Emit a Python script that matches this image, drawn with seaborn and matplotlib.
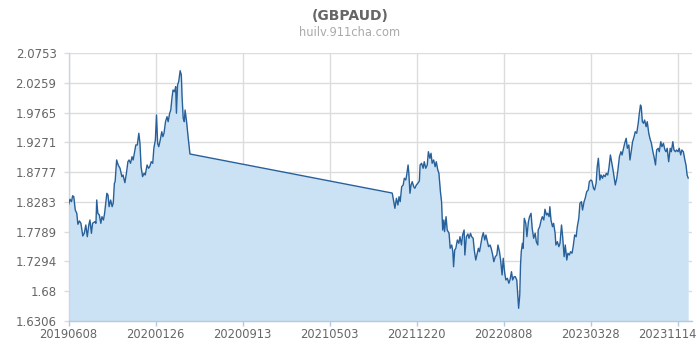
import matplotlib
matplotlib.use("Agg")
import matplotlib.pyplot as plt
import matplotlib.transforms as mtransforms
import seaborn as sns
import pandas as pd

# ---- data (GBP/AUD) ----
dates = [
    "2019-06-08", "2019-06-12", "2019-06-16", "2019-06-19", "2019-06-22", "2019-06-26", "2019-06-30",
    "2019-07-03", "2019-07-07", "2019-07-11", "2019-07-16", "2019-07-20", "2019-07-24", "2019-07-28",
    "2019-08-01", "2019-08-04", "2019-08-08", "2019-08-11", "2019-08-17", "2019-08-20", "2019-08-22",
    "2019-08-25", "2019-08-29", "2019-09-02", "2019-09-05", "2019-09-09", "2019-09-12", "2019-09-18",
    "2019-09-21", "2019-09-24", "2019-09-28", "2019-10-02", "2019-10-05", "2019-10-08", "2019-10-10",
    "2019-10-14", "2019-10-18", "2019-10-23", "2019-10-28", "2019-10-31", "2019-11-05", "2019-11-09",
    "2019-11-13", "2019-11-16", "2019-11-20", "2019-11-24", "2019-11-27", "2019-12-01", "2019-12-04",
    "2019-12-08", "2019-12-12", "2019-12-15", "2019-12-18", "2019-12-22", "2019-12-26", "2019-12-29",
    "2020-01-03", "2020-01-07", "2020-01-10", "2020-01-14", "2020-01-18", "2020-01-21", "2020-01-25",
    "2020-01-28", "2020-01-31", "2020-02-03", "2020-02-07", "2020-02-11", "2020-02-14", "2020-02-17",
    "2020-02-21", "2020-02-25", "2020-02-28", "2020-03-03", "2020-03-06", "2020-03-09", "2020-03-12",
    "2020-03-16", "2020-03-19", "2020-03-21", "2020-03-24", "2020-03-27", "2020-03-31", "2020-04-03",
    "2020-04-05", "2020-04-08", "2020-04-11", "2020-04-13", "2020-04-17", "2020-04-21", "2020-04-26",
    "2021-10-15", "2021-10-16", "2021-10-20", "2021-10-23", "2021-10-27", "2021-10-31", "2021-11-03",
    "2021-11-06", "2021-11-10", "2021-11-14", "2021-11-17", "2021-11-21", "2021-11-24", "2021-11-27",
    "2021-11-29", "2021-12-02", "2021-12-05", "2021-12-08", "2021-12-12", "2021-12-15", "2021-12-19",
    "2021-12-23", "2021-12-27", "2021-12-29", "2022-01-02", "2022-01-06", "2022-01-09", "2022-01-13",
    "2022-01-17", "2022-01-20", "2022-01-24", "2022-01-27", "2022-01-30", "2022-02-03", "2022-02-07",
    "2022-02-10", "2022-02-14", "2022-02-17", "2022-02-21", "2022-02-24", "2022-02-27", "2022-03-02",
    "2022-03-04", "2022-03-08", "2022-03-11", "2022-03-16", "2022-03-19", "2022-03-23", "2022-03-26",
    "2022-03-28", "2022-03-31", "2022-04-03", "2022-04-07", "2022-04-11", "2022-04-14", "2022-04-18",
    "2022-04-21", "2022-04-25", "2022-04-27", "2022-05-01", "2022-05-05", "2022-05-08", "2022-05-12",
    "2022-05-15", "2022-05-19", "2022-05-22", "2022-05-26", "2022-05-30", "2022-06-02", "2022-06-05",
    "2022-06-09", "2022-06-12", "2022-06-15", "2022-06-19", "2022-06-22", "2022-06-26", "2022-06-29",
    "2022-07-03", "2022-07-06", "2022-07-10", "2022-07-13", "2022-07-17", "2022-07-21", "2022-07-24",
    "2022-07-28", "2022-07-31", "2022-08-04", "2022-08-07", "2022-08-11", "2022-08-14", "2022-08-18",
    "2022-08-22", "2022-08-25", "2022-08-29", "2022-09-01", "2022-09-05", "2022-09-08", "2022-09-12",
    "2022-09-15", "2022-09-17", "2022-09-20", "2022-09-22", "2022-09-24", "2022-09-27", "2022-09-29",
    "2022-10-02", "2022-10-06", "2022-10-09", "2022-10-13", "2022-10-16", "2022-10-20", "2022-10-23",
    "2022-10-27", "2022-10-31", "2022-11-03", "2022-11-07", "2022-11-08", "2022-11-12", "2022-11-16",
    "2022-11-19", "2022-11-23", "2022-11-26", "2022-11-30", "2022-12-03", "2022-12-07", "2022-12-09",
    "2022-12-12", "2022-12-16", "2022-12-19", "2022-12-23", "2022-12-25", "2022-12-29", "2023-01-02",
    "2023-01-05", "2023-01-09", "2023-01-12", "2023-01-16", "2023-01-19", "2023-01-23", "2023-01-26",
    "2023-01-30", "2023-02-02", "2023-02-06", "2023-02-09", "2023-02-13", "2023-02-17", "2023-02-20",
    "2023-02-24", "2023-02-27", "2023-03-03", "2023-03-06", "2023-03-10", "2023-03-13", "2023-03-17",
    "2023-03-21", "2023-03-24", "2023-03-28", "2023-03-31", "2023-04-04", "2023-04-07", "2023-04-11",
    "2023-04-14", "2023-04-17", "2023-04-21", "2023-04-24", "2023-04-28", "2023-05-01", "2023-05-05",
    "2023-05-08", "2023-05-12", "2023-05-15", "2023-05-19", "2023-05-23", "2023-05-26", "2023-05-30",
    "2023-06-01", "2023-06-05", "2023-06-08", "2023-06-12", "2023-06-16", "2023-06-19", "2023-06-23",
    "2023-06-26", "2023-06-30", "2023-07-03", "2023-07-07", "2023-07-10", "2023-07-14", "2023-07-17",
    "2023-07-21", "2023-07-24", "2023-07-28", "2023-08-01", "2023-08-04", "2023-08-07", "2023-08-09",
    "2023-08-12", "2023-08-15", "2023-08-18", "2023-08-22", "2023-08-25", "2023-08-29", "2023-09-01",
    "2023-09-05", "2023-09-09", "2023-09-12", "2023-09-16", "2023-09-19", "2023-09-23", "2023-09-26",
    "2023-09-30", "2023-10-03", "2023-10-07", "2023-10-11", "2023-10-14", "2023-10-17", "2023-10-21",
    "2023-10-25", "2023-10-28", "2023-11-01", "2023-11-04", "2023-11-08", "2023-11-11", "2023-11-15",
    "2023-11-18", "2023-11-22", "2023-11-25", "2023-11-29", "2023-12-03", "2023-12-06", "2023-12-09",
    "2023-12-12",
]
rates = [
    1.8231, 1.8326, 1.8286, 1.8385, 1.8369, 1.8148, 1.8093,
    1.7911, 1.7966, 1.7927, 1.7717, 1.7761, 1.7899, 1.7705,
    1.7899, 1.7982, 1.7761, 1.7927, 1.7954, 1.7927, 1.8314,
    1.8093, 1.8065, 1.7927, 1.8037, 1.7982, 1.8093, 1.8425,
    1.8397, 1.8203, 1.8314, 1.8203, 1.8259, 1.8591, 1.8618,
    1.8978, 1.8895, 1.8840, 1.8701, 1.8729, 1.8601, 1.8757,
    1.8949, 1.8978, 1.8923, 1.9032, 1.8978, 1.9115, 1.9227,
    1.9227, 1.9421, 1.9255, 1.8866, 1.8701, 1.8757, 1.8729,
    1.8895, 1.8840, 1.8866, 1.8949, 1.8923, 1.9172, 1.9309,
    1.9724, 1.9255, 1.9198, 1.9309, 1.9447, 1.9364, 1.9421,
    1.9613, 1.9696, 1.9613, 1.9753, 1.9807, 2.0001, 2.0139,
    2.0111, 2.0194, 1.9753, 2.0222, 2.0277, 2.0459, 2.0388,
    2.0028, 1.9670, 1.9613, 1.9807, 1.9613, 1.9364, 1.9077,
    1.8430, 1.8425, 1.8286, 1.8176, 1.8342, 1.8231, 1.8369,
    1.8286, 1.8535, 1.8563, 1.8674, 1.8646, 1.8757, 1.8895,
    1.8757, 1.8425, 1.8563, 1.8618, 1.8535, 1.8508, 1.8563,
    1.8591, 1.8629, 1.8895, 1.8923, 1.8840, 1.8949, 1.8840,
    1.8895, 1.9115, 1.9006, 1.9089, 1.8923, 1.8978, 1.8866,
    1.8949, 1.8812, 1.8757, 1.8452, 1.8286, 1.7816, 1.7982,
    1.7788, 1.8037, 1.7816, 1.7761, 1.7513, 1.7567, 1.7456,
    1.7207, 1.7484, 1.7513, 1.7650, 1.7595, 1.7705, 1.7567,
    1.7733, 1.7816, 1.7401, 1.7705, 1.7750, 1.7679, 1.7761,
    1.7705, 1.7679, 1.7484, 1.7318, 1.7430, 1.7513, 1.7456,
    1.7595, 1.7705, 1.7771, 1.7650, 1.7733, 1.7622, 1.7539,
    1.7567, 1.7513, 1.7401, 1.7290, 1.7373, 1.7401, 1.7567,
    1.7456, 1.7318, 1.7070, 1.7347, 1.7098, 1.6987, 1.7015,
    1.6932, 1.6987, 1.7124, 1.6987, 1.7041, 1.7041, 1.6987,
    1.6710, 1.6517, 1.6738, 1.7235, 1.7456, 1.7595, 1.7513,
    1.8010, 1.7927, 1.7705, 1.7954, 1.8037, 1.8093, 1.7844,
    1.7679, 1.7761, 1.7622, 1.7567, 1.7816, 1.7871, 1.7982,
    1.8037, 1.7982, 1.8160, 1.8065, 1.8093, 1.8037, 1.8203,
    1.7982, 1.7871, 1.7927, 1.7761, 1.7567, 1.7622, 1.7539,
    1.7595, 1.7899, 1.7705, 1.7373, 1.7567, 1.7318, 1.7430,
    1.7401, 1.7456, 1.7430, 1.7539, 1.7733, 1.7705, 1.7871,
    1.8010, 1.8259, 1.8286, 1.8148, 1.8286, 1.8342, 1.8452,
    1.8480, 1.8618, 1.8646, 1.8629, 1.8508, 1.8480, 1.8591,
    1.8866, 1.9006, 1.8646, 1.8729, 1.8674, 1.8729, 1.8701,
    1.8757, 1.8729, 1.8840, 1.9061, 1.8923, 1.8812, 1.8646,
    1.8563, 1.8674, 1.8812, 1.9032, 1.9115, 1.9061, 1.9172,
    1.9255, 1.9338, 1.9172, 1.9227, 1.8978, 1.9144, 1.9281,
    1.9364, 1.9447, 1.9421, 1.9587, 1.9753, 1.9890, 1.9862,
    1.9613, 1.9587, 1.9641, 1.9530, 1.9613, 1.9421, 1.9338,
    1.9255, 1.9115, 1.9032, 1.8895, 1.9144, 1.9172, 1.9115,
    1.9281, 1.9198, 1.9255, 1.9144, 1.9115, 1.9172, 1.8949,
    1.9172, 1.9115, 1.9281, 1.9144, 1.9115, 1.9144, 1.9115,
    1.9172, 1.9061, 1.9144, 1.9115, 1.8978, 1.8895, 1.8729,
    1.8674,
]
x_tick_dates = ["2019-06-08", "2020-01-26", "2020-09-13", "2021-05-03",
                "2021-12-20", "2022-08-08", "2023-03-28", "2023-11-14"]
x_tick_labels = ["20190608", "20200126", "20200913", "20210503",
                 "20211220", "20220808", "20230328", "20231114"]
y_ticks = [1.6306, 1.68, 1.7294, 1.7789, 1.8283, 1.8777, 1.9271, 1.9765, 2.0259, 2.0753]
y_tick_labels = ["1.6306", "1.68", "1.7294", "1.7789", "1.8283",
                 "1.8777", "1.9271", "1.9765", "2.0259", "2.0753"]
title = "(GBPAUD)"
subtitle = "huilv.911cha.com"

df = pd.DataFrame({"date": pd.to_datetime(dates), "rate": rates})

sns.set_style("white")
plt.rcParams["font.family"] = ["DejaVu Sans"]

fig = plt.figure(figsize=(7, 3.5), dpi=100)
ax = fig.add_axes([68.5 / 700, 29 / 350, (692 - 68.5) / 700, 268 / 350])

line_color = "#27609a"
fill_color = "#cbe2f5"

ax.fill_between(df["date"], df["rate"], y_ticks[0], color=fill_color, linewidth=0, zorder=1)
sns.lineplot(data=df, x="date", y="rate", ax=ax, color=line_color, linewidth=1.0, zorder=3)

ax.set_xlim(pd.Timestamp("2019-06-08"), pd.Timestamp("2023-12-22"))
ax.set_ylim(y_ticks[0], y_ticks[-1])

ax.set_xticks(pd.to_datetime(x_tick_dates))
ax.set_xticklabels(x_tick_labels)
ax.set_yticks(y_ticks)
ax.set_yticklabels(y_tick_labels)
ax.set_xlabel("")
ax.set_ylabel("")

ax.grid(True, color="#dcdcdc", linewidth=1.0, zorder=0)
ax.set_axisbelow(True)

for s in ["top", "right"]:
    ax.spines[s].set_visible(False)
ax.spines["left"].set_color("#c9d6e3")
ax.spines["bottom"].set_color("#b7c9dc")
ax.spines["left"].set_linewidth(1.0)
ax.spines["bottom"].set_linewidth(1.0)

ax.tick_params(axis="x", length=3.6, width=1, color="#b7c9dc", labelcolor="#666666",
               labelsize=8.3, pad=1.5, direction="out", bottom=True)
ax.tick_params(axis="y", length=3.6, width=1, color="#dcdcdc", labelcolor="#666666",
               labelsize=8.5, pad=5, direction="out", left=True)

# keep the last x label inside the canvas (as the reference does)
last_lbl = ax.get_xticklabels()[-1]
last_lbl.set_transform(last_lbl.get_transform() +
                       mtransforms.ScaledTranslation(-10 / 100, 0, fig.dpi_scale_trans))

fig.text(0.5, 1 - 16 / 350, title, ha="center", va="center", fontsize=10,
         fontweight="bold", color="#666666")
fig.text(0.5, 1 - 33 / 350, subtitle, ha="center", va="center", fontsize=8.3,
         color="#aaaaaa")

fig.savefig("out.png", dpi=100)
